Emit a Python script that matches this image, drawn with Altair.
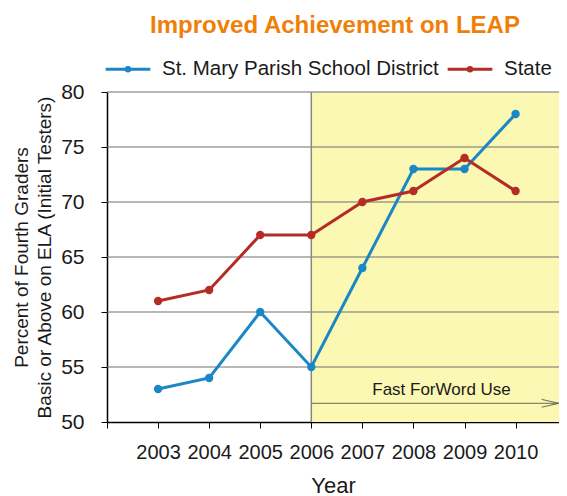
import altair as alt
import pandas as pd

years = [2003, 2004, 2005, 2006, 2007, 2008, 2009, 2010]
district = [53, 54, 60, 55, 64, 73, 73, 78]
state = [61, 62, 67, 67, 70, 71, 74, 71]
series_names = ["St. Mary Parish School District", "State"]
series_colors = ["#1B87C6", "#B42D25"]
y_ticks = [50, 55, 60, 65, 70, 75, 80]
x_min, x_max = 2002, 2010.85
shade_start = 2006
annotation_text = "Fast ForWord Use"
annotation_x = 2008.55
annotation_y = 52.9
arrow_y = 51.7

FONT = "Liberation Sans"

df = pd.DataFrame(
    {
        "Year": years * 2,
        "Value": district + state,
        "Series": [series_names[0]] * len(years) + [series_names[1]] * len(years),
    }
)

xs = alt.Scale(domain=[x_min, x_max], nice=False, zero=False)
ys = alt.Scale(domain=[50, 80], nice=False, zero=False)

shade = (
    alt.Chart(pd.DataFrame({"a": [shade_start], "b": [x_max]}))
    .mark_rect(color="#FAF8B2")
    .encode(
        x=alt.X("a:Q", scale=xs),
        x2="b:Q",
        y=alt.value(0),
        y2=alt.value(330),
    )
)

shade_edge = (
    alt.Chart(pd.DataFrame({"a": [shade_start]}))
    .mark_rule(color="#8A8A7A", strokeWidth=1.5)
    .encode(x=alt.X("a:Q", scale=xs), y=alt.value(0), y2=alt.value(330))
)

grid = (
    alt.Chart(pd.DataFrame({"v": y_ticks[1:]}))
    .mark_rule(color="#707070", strokeWidth=1.2)
    .encode(y=alt.Y("v:Q", scale=ys), x=alt.value(0), x2=alt.value(452))
)

arrow = (
    alt.Chart(pd.DataFrame({"a": [shade_start], "b": [x_max], "y": [arrow_y]}))
    .mark_rule(color="#6A6A5A", strokeWidth=1)
    .encode(x=alt.X("a:Q", scale=xs), x2="b:Q", y=alt.Y("y:Q", scale=ys))
)

arrow_head = (
    alt.Chart(pd.DataFrame({"a": [x_max - 0.17], "y": [arrow_y]}))
    .mark_point(
        shape="M-1,-0.45L1,0L-1,0.45",
        filled=False,
        size=300,
        color="#6A6A5A",
        strokeWidth=1,
        opacity=1,
    )
    .encode(x=alt.X("a:Q", scale=xs), y=alt.Y("y:Q", scale=ys))
)

annot = (
    alt.Chart(pd.DataFrame({"x": [annotation_x], "y": [annotation_y], "t": [annotation_text]}))
    .mark_text(font=FONT, fontSize=17, color="#1a1a1a")
    .encode(x=alt.X("x:Q", scale=xs), y=alt.Y("y:Q", scale=ys), text="t:N")
)

color = alt.Color(
    "Series:N",
    scale=alt.Scale(domain=series_names, range=series_colors),
    sort=series_names,
    legend=alt.Legend(
        title=None,
        orient="none",
        direction="horizontal",
        legendX=-3,
        legendY=-47,
        symbolType="M-1,0L1,0M-0.08,0A0.08,0.08 0 1,1 0.08,0A0.08,0.08 0 1,1 -0.08,0",
        symbolSize=2000,
        symbolStrokeWidth=3,
        labelFont=FONT,
        labelFontSize=20.5,
        labelColor="#1a1a1a",
        labelOffset=10,
        columnPadding=2,
        labelLimit=400,
    ),
)

lines = (
    alt.Chart(df)
    .mark_line(strokeWidth=3)
    .encode(
        x=alt.X(
            "Year:Q",
            scale=xs,
            axis=alt.Axis(
                values=[2002] + years,
                format="d",
                labelExpr="datum.value == 2002 ? '' : datum.label",
                grid=False,
                domainColor="#000",
                domainWidth=1.5,
                tickColor="#000",
                tickSize=6,
                labelFont=FONT,
                labelFontSize=20,
                labelColor="#1a1a1a",
                labelPadding=14,
                title="Year",
                titleFont=FONT,
                titleFontSize=22,
                titleFontWeight="normal",
                titleColor="#1a1a1a",
                titlePadding=13,
            ),
        ),
        y=alt.Y(
            "Value:Q",
            scale=ys,
            axis=alt.Axis(
                values=y_ticks,
                grid=False,
                domainColor="#000",
                domainWidth=1.5,
                tickColor="#000",
                tickSize=6,
                labelFont=FONT,
                labelFontSize=21,
                labelColor="#1a1a1a",
                labelPadding=17,
                title=["Percent of Fourth Graders", "Basic or Above on ELA (Initial Testers)"],
                titleFont=FONT,
                titleFontSize=19,
                titleFontWeight="normal",
                titleColor="#1a1a1a",
                titlePadding=6,
                titleLineHeight=23,
            ),
        ),
        color=color,
    )
)

points = (
    alt.Chart(df)
    .mark_point(filled=True, size=70, opacity=1)
    .encode(
        x=alt.X("Year:Q", scale=xs),
        y=alt.Y("Value:Q", scale=ys),
        color=alt.Color("Series:N", scale=alt.Scale(domain=series_names, range=series_colors), legend=None),
    )
)

title = (
    alt.Chart(pd.DataFrame({"t": ["Improved Achievement on LEAP"]}))
    .mark_text(font=FONT, fontSize=24, fontWeight="bold", color="#F07F0A", align="center", baseline="alphabetic")
    .encode(text="t:N", x=alt.value(228), y=alt.value(-59))
)

chart = (
    alt.layer(shade, grid, shade_edge, arrow, arrow_head, annot, lines, points, title)
    .properties(
        width=452,
        height=330,
        padding={"left": 99, "top": 84, "right": 0, "bottom": 74},
        autosize=alt.AutoSizeParams(type="none"),
    )
    .configure_view(stroke=None)
)

chart.save("out.html", embed_options={"renderer": "svg", "actions": False})
